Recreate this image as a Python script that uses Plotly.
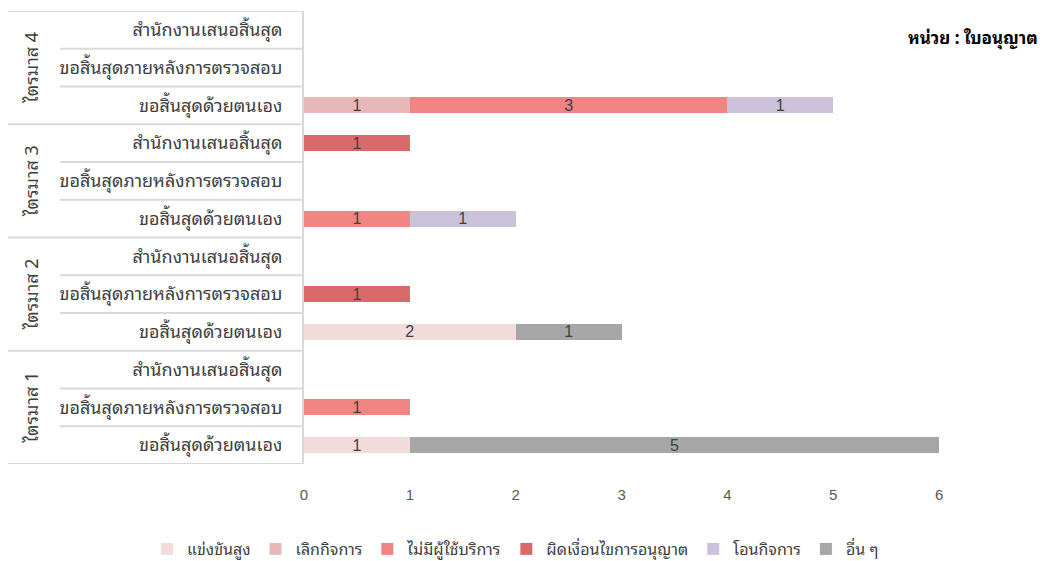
import plotly.graph_objects as go

quarters = ["ไตรมาส 1", "ไตรมาส 2", "ไตรมาส 3", "ไตรมาส 4"]
subcats = ["ขอสิ้นสุดด้วยตนเอง", "ขอสิ้นสุดภายหลังการตรวจสอบ", "สำนักงานเสนอสิ้นสุด"]

series_names = ["แข่งขันสูง", "เลิกกิจการ", "ไม่มีผู้ใช้บริการ", "ผิดเงื่อนไขการอนุญาต", "โอนกิจการ", "อื่น ๆ"]
series_colors = ["#F2DCDB", "#E6B9B8", "#F08584", "#D9696A", "#CCC1DA", "#A6A6A6"]

# values per row, row order: Q1 (self, after, office), Q2 ..., Q4 ...
high_competition = [1, 0, 0, 2, 0, 0, 0, 0, 0, 0, 0, 0]
closed_business  = [0, 0, 0, 0, 0, 0, 0, 0, 0, 1, 0, 0]
no_users         = [0, 1, 0, 0, 0, 0, 1, 0, 0, 3, 0, 0]
violation        = [0, 0, 0, 0, 1, 0, 0, 0, 1, 0, 0, 0]
transfer         = [0, 0, 0, 0, 0, 0, 1, 0, 0, 1, 0, 0]
other            = [5, 0, 0, 1, 0, 0, 0, 0, 0, 0, 0, 0]
series_values = [high_competition, closed_business, no_users, violation, transfer, other]

x_ticks = [0, 1, 2, 3, 4, 5, 6, 7]

row_keys = [f"{q}|{s}" for q in quarters for s in subcats]
row_text = [s for q in quarters for s in subcats]

W, H = 1046, 561
OFF = 8  # page body margin
# target plot area in screen pixels
PX0, PX1, PY0, PY1 = 304, 1045, 11, 464
ML, MR = PX0 - OFF, W - (PX1 - OFF)
MT, MB = PY0 - OFF, H - (PY1 - OFF)
plot_w = PX1 - PX0
plot_h = PY1 - PY0

TEXT = "#404040"
GRID = "#D9D9D9"
FONT = "'Noto Sans Thai Looped', Loma, Garuda, Tahoma, 'Noto Sans Thai', sans-serif"
NUMFONT = "'Liberation Sans Narrow', 'Arial Narrow', Arial, sans-serif"

fig = go.Figure()
for name, color, vals in zip(series_names, series_colors, series_values):
    xv = [v if v else None for v in vals]
    fig.add_trace(go.Bar(
        y=row_keys, x=xv, name=name, orientation="h",
        marker=dict(color=color, line=dict(width=0)),
        text=[str(v) if v else "" for v in vals],
        textposition="inside", insidetextanchor="middle",
        textangle=0, constraintext="none",
        textfont=dict(color=TEXT, size=16, family=NUMFONT),
        width=0.42, hoverinfo="x+name",
    ))

shapes = []
n = len(row_keys)
x_outer = (8 - PX0) / plot_w
x_inner = (60 - PX0) / plot_w
for k in range(n + 1):
    x0 = x_outer if k % 3 == 0 else x_inner
    shapes.append(dict(type="line", xref="paper", yref="y", x0=x0, x1=0,
                       y0=k - 0.5, y1=k - 0.5, line=dict(color=GRID, width=2)))

annotations = []
for i, q in enumerate(quarters):
    annotations.append(dict(text=q, xref="paper", yref="y", x=(30 - PX0) / plot_w,
                            xanchor="center", y=i * 3 + 1, textangle=-90, showarrow=False,
                            font=dict(size=18, color=TEXT, family=FONT)))
annotations.append(dict(text="<b>หน่วย : ใบอนุญาต</b>", xref="paper", yref="paper",
                        x=(1040 - PX0) / plot_w, xanchor="right",
                        y=1 - (37 - PY0) / plot_h, yanchor="middle", showarrow=False,
                        font=dict(size=17, color="#000000", family=FONT)))

fig.update_layout(
    width=W, height=H,
    margin=dict(l=ML, r=MR, t=MT, b=MB, pad=0, autoexpand=False),
    paper_bgcolor="white", plot_bgcolor="white",
    barmode="stack",
    showlegend=True,
    legend=dict(orientation="h", xref="container", yref="paper",
                x=(147 - OFF) / W, xanchor="left", y=1 - (549 - PY0) / plot_h, yanchor="middle",
                font=dict(size=16, color=TEXT, family=FONT),
                itemwidth=30, traceorder="normal", tracegroupgap=0),
    xaxis=dict(range=[0, 7], tickvals=x_ticks, showgrid=False, zeroline=False,
               showline=False, ticklabelstandoff=20,
               tickfont=dict(size=15, color="#595959", family=NUMFONT)),
    yaxis=dict(type="category", categoryorder="array", categoryarray=row_keys,
               tickvals=row_keys, ticktext=row_text, range=[-0.5, n - 0.5],
               showgrid=False, zeroline=False, showline=True, linecolor=GRID, linewidth=2,
               ticks="", ticklabelstandoff=16,
               tickfont=dict(size=18, color=TEXT, family=FONT)),
    shapes=shapes, annotations=annotations,
)

fig.write_html("out.html")
